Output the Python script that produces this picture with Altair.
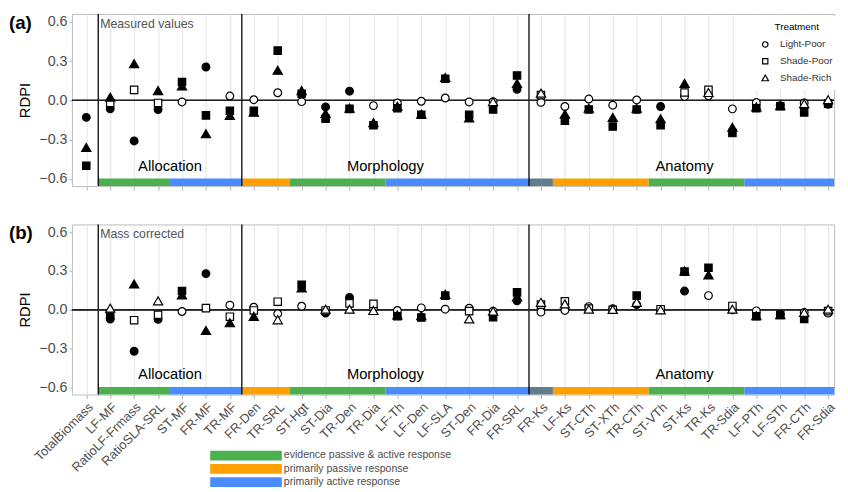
import json
import altair as alt
import pandas as pd

categories = ["TotalBiomass", "LF-MF", "RatioLF-Frmass", "RatioSLA-SRL", "ST-MF", "FR-MF", "TR-MF",
              "FR-Den", "TR-SRL", "ST-Hgt", "ST-Dia", "TR-Den", "TR-Dia", "LF-Th", "LF-Den", "LF-SLA",
              "ST-Den", "FR-Dia", "FR-SRL", "FR-Ks", "LF-Ks", "ST-CTh", "ST-XTh", "TR-CTh", "ST-VTh",
              "ST-Ks", "TR-Ks", "TR-Sdia", "LF-PTh", "LF-STh", "FR-CTh", "FR-Sdia"]

treatments = ["Light-Poor", "Shade-Poor", "Shade-Rich"]

# Panel (a): measured values
a_light_poor = [-0.13, -0.065, -0.31, -0.07, -0.012, 0.255, 0.033, 0.005, 0.058, -0.01, -0.05, 0.07, -0.04,
                -0.02, -0.007, 0.018, -0.012, -0.01, 0.085, -0.015, -0.047, 0.01, -0.037, 0.003, -0.047,
                0.03, 0.035, -0.065, -0.017, -0.04, -0.02, -0.03]
a_light_poor_filled = [1, 1, 1, 1, 0, 1, 0, 0, 0, 0, 1, 1, 0, 0, 0, 0, 0, 0, 1, 0, 0, 0, 0, 0, 1, 0, 0, 0, 0, 1, 0, 1]
a_shade_poor = [-0.50, -0.02, 0.08, -0.02, 0.14, -0.115, -0.08, -0.08, 0.38, 0.05, -0.14, -0.065, -0.19,
                -0.06, -0.11, 0.165, -0.11, -0.07, 0.19, 0.04, -0.155, -0.07, -0.20, -0.07, -0.19,
                0.06, 0.08, -0.25, -0.06, -0.045, -0.092, -0.025]
a_shade_poor_filled = [1, 0, 0, 0, 1, 1, 1, 1, 1, 1, 1, 1, 1, 1, 1, 1, 1, 1, 1, 0, 1, 1, 1, 1, 1, 0, 0, 1, 1, 1, 1, 1]
a_shade_rich = [-0.36, 0.025, 0.28, 0.075, 0.11, -0.255, -0.115, -0.09, 0.23, 0.075, -0.10, -0.06, -0.17,
                -0.045, -0.105, 0.175, -0.135, -0.01, 0.13, 0.055, -0.105, -0.06, -0.13, -0.06, -0.14,
                0.13, 0.06, -0.205, -0.05, -0.04, -0.025, 0.005]
a_shade_rich_filled = [1, 1, 1, 1, 1, 1, 1, 1, 1, 1, 1, 1, 1, 1, 1, 1, 1, 0, 1, 0, 1, 1, 1, 1, 1, 1, 0, 1, 1, 1, 0, 0]

# Panel (b): mass corrected
b_light_poor = [None, -0.071, -0.32, -0.074, -0.013, 0.28, 0.036, 0.02, -0.03, 0.028, -0.025, 0.096, 0.01,
                -0.005, 0.015, 0.005, 0.012, -0.01, 0.07, -0.018, -0.005, 0.025, 0.008, 0.04, 0.0,
                0.145, 0.11, 0.0, -0.008, -0.035, -0.02, -0.025]
b_light_poor_filled = [0, 1, 1, 1, 0, 1, 0, 0, 0, 0, 1, 1, 0, 0, 0, 0, 0, 0, 1, 0, 0, 0, 0, 1, 0, 1, 0, 0, 0, 1, 0, 0]
b_shade_poor = [None, -0.046, -0.08, -0.038, 0.145, 0.013, -0.053, -0.005, 0.063, 0.193, -0.005, 0.05, 0.046,
                -0.05, -0.06, 0.11, -0.01, -0.057, 0.135, 0.04, 0.066, 0.01, 0.0, 0.11, 0.005,
                0.295, 0.325, 0.03, -0.05, -0.04, -0.071, -0.01]
b_shade_poor_filled = [0, 1, 0, 0, 1, 0, 0, 0, 0, 1, 0, 0, 0, 1, 1, 1, 0, 1, 1, 0, 0, 0, 0, 1, 0, 1, 1, 0, 1, 1, 1, 0]
b_shade_rich = [None, 0.013, 0.20, 0.069, 0.115, -0.16, -0.10, -0.05, -0.077, 0.17, 0.005, 0.005, -0.005,
                -0.04, -0.045, 0.12, -0.07, -0.01, 0.10, 0.058, 0.046, 0.005, 0.003, 0.058, 0.0,
                0.30, 0.27, 0.005, -0.045, -0.038, -0.02, 0.005]
b_shade_rich_filled = [0, 0, 1, 0, 1, 1, 1, 1, 0, 1, 0, 0, 0, 1, 1, 1, 0, 0, 1, 0, 0, 0, 0, 0, 0, 1, 1, 0, 1, 1, 0, 0]

# Response-type bands along the bottom
band_start = [0.5, 3.5, 6.5, 8.5, 12.5, 18.5, 19.5, 23.5, 27.5]
band_end = [3.5, 6.5, 8.5, 12.5, 18.5, 19.5, 23.5, 27.5, 31.5]
EV = "evidence passive & active response"
PA = "primarily passive response"
AC = "primarily active response"
NA = "not classified"
band_type = [EV, AC, PA, EV, AC, NA, PA, EV, AC]
response_types = [EV, PA, AC, NA]
response_colors = ["#4CAF50", "#FF9F00", "#4A8CFF", "#607D8B"]

sections = ["Allocation", "Morphology", "Anatomy"]
section_pos = [3.5, 12.5, 25.0]
dividers = [0.5, 6.5, 18.5]

FONT = "Liberation Sans"
# circle, square, triangle drawn as unit paths so that each keeps its own relative size
SHAPES = ["M0.88,0A0.88,0.88,0,1,1,-0.88,0A0.88,0.88,0,1,1,0.88,0Z",
          "M-0.84,-0.84H0.84V0.84H-0.84Z",
          "M0,-0.91L1.05,0.91L-1.05,0.91Z"]


def long_df(series):
    rows = []
    for t, (vals, fills) in zip(treatments, series):
        for i, (v, f) in enumerate(zip(vals, fills)):
            if v is None:
                continue
            rows.append(dict(idx=i, cat=categories[i], treatment=t, value=v,
                             fc="black" if f else "white"))
    return pd.DataFrame(rows)


df_a = long_df([(a_light_poor, a_light_poor_filled), (a_shade_poor, a_shade_poor_filled),
                (a_shade_rich, a_shade_rich_filled)])
df_b = long_df([(b_light_poor, b_light_poor_filled), (b_shade_poor, b_shade_poor_filled),
                (b_shade_rich, b_shade_rich_filled)])
bands = pd.DataFrame({"start": band_start, "end": band_end, "type": band_type})
secs = pd.DataFrame({"name": sections, "pos": section_pos})
divs = pd.DataFrame({"pos": dividers})

xscale = alt.Scale(domain=[-0.6, 31.25], nice=False, zero=False)
yscale = alt.Scale(domain=[-0.655, 0.66], nice=False, zero=False)
minor = "abs(round(datum.value / 0.15)) % 2 == 1"


def xaxis(labels):
    return alt.Axis(values=list(range(len(categories))),
                    labelExpr=json.dumps(categories) + "[datum.value]",
                    labels=labels, labelAngle=-45, labelFontSize=13, labelPadding=2,
                    labelOverlap=False, labelBound=False, labelFlush=False,
                    tickSize=4, title=None, domain=False, gridColor="#E3E3E3", gridWidth=1)


yaxis = alt.Axis(values=[-0.6, -0.45, -0.3, -0.15, 0, 0.15, 0.3, 0.45, 0.6],
                 labelExpr=f"{minor} ? '' : format(datum.value, '.1f')",
                 tickColor={"condition": {"test": minor, "value": "transparent"}, "value": "#B3B3B3"},
                 gridWidth={"condition": {"test": minor, "value": 0.6}, "value": 1},
                 gridColor="#E3E3E3", tickSize=3, labelFontSize=14.5, labelPadding=2,
                 labelOverlap=False, labelFlush=False,
                 title="RDPI", titleFontSize=15, titleFontWeight="normal", titlePadding=6,
                 domain=False)


def panel(df, label, note, show_x_labels, shape_legend, color_legend, h):
    X = lambda f: alt.X(f, scale=xscale, axis=xaxis(show_x_labels))
    Y = lambda f: alt.Y(f, scale=yscale, axis=yaxis)

    band_layer = alt.Chart(bands).mark_rect(clip=True).encode(
        x=X("start:Q"), x2="end:Q",
        y=alt.YDatum(-0.597, scale=yscale, axis=yaxis), y2=alt.datum(-0.66),
        color=alt.Color("type:N", scale=alt.Scale(domain=response_types, range=response_colors),
                        legend=color_legend),
    )
    div_layer = alt.Chart(divs).mark_rule(color="black", strokeWidth=1.3).encode(x=X("pos:Q"))
    zero_layer = alt.Chart(divs).mark_rule(color="#222222", strokeWidth=1.4).encode(
        y=alt.YDatum(0, scale=yscale, axis=yaxis))
    sec_layer = alt.Chart(secs).mark_text(fontSize=15, font=FONT, color="black").encode(
        x=X("pos:Q"), y=alt.YDatum(-0.5, scale=yscale, axis=yaxis), text="name:N")
    note_layer = alt.Chart(pd.DataFrame({"t": [note]})).mark_text(
        fontSize=12.5, font=FONT, color="#555555", align="left", baseline="middle").encode(
        x=alt.XDatum(0.58, scale=xscale, axis=xaxis(show_x_labels)),
        y=alt.YDatum(0.585, scale=yscale, axis=yaxis), text="t:N")
    pts = alt.Chart(df).mark_point(size=80, strokeWidth=1.2, opacity=1, fillOpacity=1,
                                   stroke="black").encode(
        x=X("idx:Q"), y=Y("value:Q"),
        shape=alt.Shape("treatment:N", scale=alt.Scale(domain=treatments, range=SHAPES),
                        legend=shape_legend),
        fill=alt.Fill("fc:N", scale=None),
    )
    lab_layer = alt.Chart(pd.DataFrame({"t": [label]})).mark_text(
        fontSize=19, fontWeight="bold", font=FONT, color="black", align="left",
        baseline="alphabetic").encode(x=alt.value(-64), y=alt.value(15), text="t:N")
    return alt.layer(band_layer, div_layer, zero_layer, sec_layer, note_layer, pts, lab_layer).properties(
        width=775, height=h)


shape_leg = alt.Legend(orient="none", legendX=694, legendY=2, title="Treatment", titleFontSize=10,
                       titleFontWeight="normal", titleAnchor="middle", titlePadding=8,
                       labelFontSize=10, labelColor="#333333", symbolSize=40, symbolStrokeWidth=1.2,
                       symbolFillColor="white", symbolStrokeColor="black", rowPadding=5,
                       labelOffset=10, padding=6, fillColor="white")
color_leg = alt.Legend(orient="none", legendX=170, legendY=228, title=None,
                       values=[EV, PA, AC], symbolType="M-5.2,-0.714H5.2V0.714H-5.2Z", symbolSize=196,
                       symbolStrokeWidth=0, symbolOpacity=1, labelFontSize=10.7, labelColor="#4D4D4D",
                       rowPadding=1.5, labelOffset=31.5, padding=0, labelLimit=0)

pa = panel(df_a, "(a)", "Measured values", False, shape_leg, None, 175)
pb = panel(df_b, "(b)", "Mass corrected", True, None, color_leg, 173)

chart = alt.vconcat(pa, pb, spacing=32).resolve_scale(
    color="independent", shape="independent").properties(
    padding=0
).configure_view(stroke="#BDBDBD", strokeWidth=1).configure_axis(
    labelFont=FONT, titleFont=FONT, labelColor="#4D4D4D", titleColor="black", tickColor="#B3B3B3"
).configure_legend(labelFont=FONT, titleFont=FONT, titleColor="black")

chart.save("out.html", embed_options={"renderer": "svg", "actions": False})
